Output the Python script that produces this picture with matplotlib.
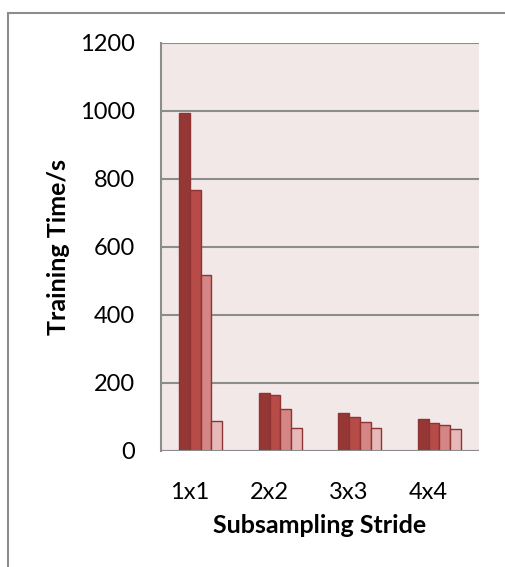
import numpy as np
import matplotlib.pyplot as plt
import matplotlib.transforms as mtransforms
from matplotlib.patches import Rectangle

# data
categorias = ['1x1', '2x2', '3x3', '4x4']
serie_1 = [993, 171, 111, 93]
serie_2 = [768, 164, 101, 83]
serie_3 = [518, 124, 85, 76]
serie_4 = [89, 68, 68, 65]
series = [serie_1, serie_2, serie_3, serie_4]
colores = ['#953735', '#B64B48', '#D48584', '#E6B9B8']

plt.rcParams['font.family'] = ['Lato', 'DejaVu Sans']

fig = plt.figure(figsize=(5.06, 5.67), dpi=100)
ax = fig.add_axes([0.318, 0.2046, 0.629, 0.7196])
ax.set_facecolor('#F2E8E8')

x = np.arange(len(categorias))
ancho = 0.135
for i, (valores, color) in enumerate(zip(series, colores)):
    ax.bar(x + (i - 1.5) * ancho, valores, width=ancho, color=color,
           edgecolor='#8E3533', linewidth=1.0, zorder=3)

ax.set_xlim(-0.5, len(categorias) - 0.5)
ax.set_ylim(0, 1200)
ax.set_yticks(range(0, 1201, 200))
ax.set_xticks(x)
ax.set_xticklabels(categorias)

ax.grid(True, axis='y', color='#8C8C8C', linewidth=1.5, zorder=1)
for lado in ['top', 'right', 'bottom']:
    ax.spines[lado].set_visible(False)
ax.spines['left'].set_color('#8C8C8C')
ax.spines['left'].set_linewidth(1.5)
ax.axhline(0, color='#8C8C8C', linewidth=1.5, zorder=4)

ax.tick_params(axis='both', length=0, labelsize=17, colors='black')
ax.tick_params(axis='y', pad=18.5)
ax.tick_params(axis='x', pad=22)

# las etiquetas de categoria van un poco a la izquierda, como en Excel
desplazamiento = mtransforms.ScaledTranslation(-11 / 100, 0, fig.dpi_scale_trans)
for etiqueta in ax.get_xticklabels():
    etiqueta.set_transform(etiqueta.get_transform() + desplazamiento)

ax.set_xlabel('Subsampling Stride', fontsize=18, fontweight='bold', labelpad=8)
ax.set_ylabel('Training Time/s', fontsize=18, fontweight='bold', labelpad=7)

# marco exterior del grafico
fig.add_artist(Rectangle((8 / 506, -0.1), 1.2, (567 - 13) / 567 + 0.1,
                         transform=fig.transFigure, fill=False,
                         edgecolor='#8C8C8C', linewidth=1.5))

fig.savefig('out.png', dpi=100)
